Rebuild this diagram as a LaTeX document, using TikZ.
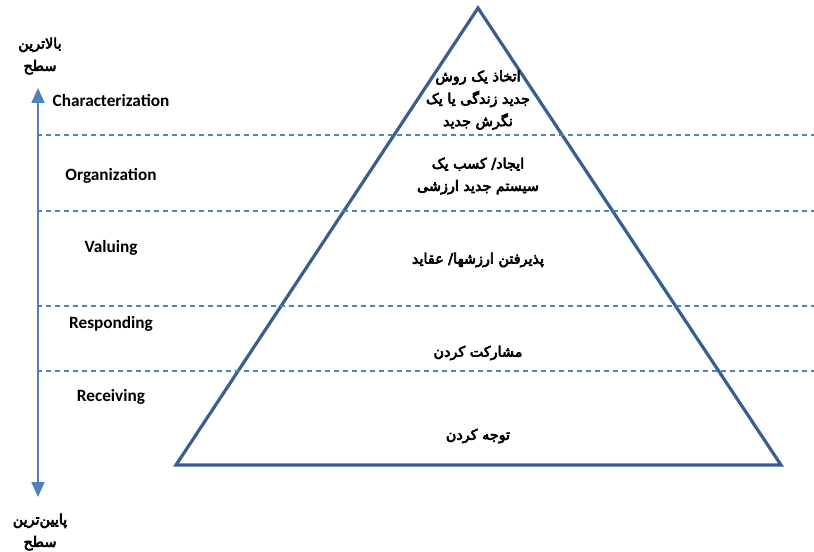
\documentclass[tikz,border=0pt]{standalone}
\usepackage{fontspec}
\usetikzlibrary{arrows.meta}
\TeXXeTstate=1
\newfontfamily\arabicfont[Script=Arabic]{DejaVu Sans}
\setsansfont{Carlito}
\definecolor{tricol}{HTML}{3A5F8F}
\definecolor{sepcol}{HTML}{4F81BD}
\newcommand{\fa}[1]{\special{pdf:code 2 Tr 0.6 w}\beginR #1\endR\special{pdf:code 0 Tr}}
\tikzset{
  lvl/.style={font=\sffamily\bfseries\fontsize{17.3}{20}\selectfont, text=black},
  fatext/.style={font=\arabicfont\fontsize{14.4}{22.5}\selectfont, align=center, text=black},
  sep/.style={draw=sepcol, line width=1.2bp, dash pattern=on 5bp off 4bp},
}
\begin{document}
\begin{tikzpicture}[x=1bp,y=-1bp]
\useasboundingbox (0,0) rectangle (814,552);
% triangle
\coordinate (apex) at (478,8);
\coordinate (bl) at (176,465);
\coordinate (br) at (781,465);
\draw[draw=tricol, line width=3.2bp, line join=miter] (apex) -- (bl) -- (br) -- cycle;
% separators
\foreach \y/\n in {135/a,211/b,306/c,371/d}{
  \coordinate (s\n l) at (37,\y);
  \coordinate (s\n r) at (814,\y);
  \draw[sep] (s\n l) -- (s\n r);
}
% arrow
\coordinate (atop) at (38,88);
\coordinate (abot) at (38,497);
\draw[draw=sepcol, fill=sepcol, line width=2bp, {Triangle[width=13bp,length=15bp]}-{Triangle[width=13bp,length=15bp]}] (atop) -- (abot);
% level labels
\node[lvl] (char) at (111,101) {Characterization};
\node[lvl] (org) at (111,176) {Organization};
\node[lvl] (val) at (111,248) {Valuing};
\node[lvl] (resp) at (111,324) {Responding};
\node[lvl] (rec) at (111,397) {Receiving};
% persian texts
\node[fatext] (t1) at (478,100) {\fa{اتخاذ یک روش}\\\fa{جدید زندگی یا یک}\\\fa{نگرش جدید}};
\node[fatext] (t2) at (478,176) {\fa{ایجاد/ کسب یک}\\\fa{سیستم جدید ارزشی}};
\node[fatext] (t3) at (478,260) {\fa{پذیرفتن ارزشها/ عقاید}};
\node[fatext] (t4) at (478,353) {\fa{مشارکت کردن}};
\node[fatext] (t5) at (478,436) {\fa{توجه کردن}};
\node[fatext] (hi) at (40,56) {\fa{بالاترین}\\\fa{سطح}};
\node[fatext] (lo) at (40,532) {\fa{پایین‌ترین}\\\fa{سطح}};
\end{tikzpicture}
\end{document}
